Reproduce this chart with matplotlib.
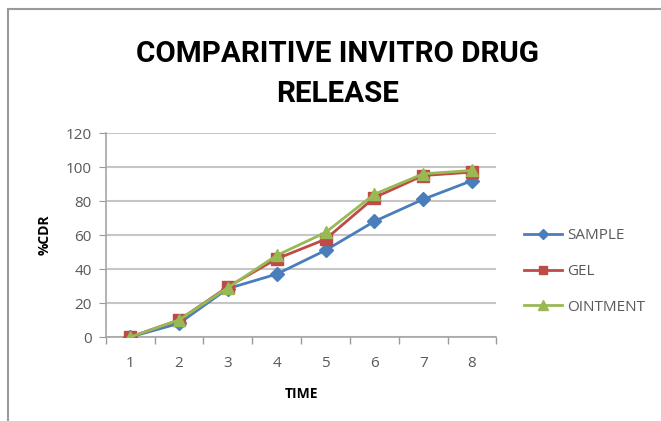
import matplotlib.pyplot as plt
from matplotlib.lines import Line2D

# === Data ===
time_points = [1, 2, 3, 4, 5, 6, 7, 8]
sample_cdr = [0, 8, 28.5, 37, 51, 68, 81, 92]
gel_cdr = [0, 10, 29.5, 46, 57.5, 82, 95, 97]
ointment_cdr = [0, 10, 29, 48, 61.5, 84, 96, 98]
y_ticks = [0, 20, 40, 60, 80, 100, 120]

# === Style ===
plt.rcParams['font.family'] = ['Open Sans', 'DejaVu Sans']
blue = '#4a7ebb'
red = '#be4b48'
green = '#98b954'
grid_gray = '#c6c6c6'
tick_gray = '#595959'
title_font = ['Roboto', 'Open Sans', 'DejaVu Sans']

fig = plt.figure(figsize=(6.61, 4.21), dpi=100)
ax = fig.add_axes([0.160, 0.1995, 0.591, 0.4845])

ax.plot(time_points, sample_cdr, color=blue, lw=2, marker='D', ms=7,
        label='SAMPLE', zorder=3)
ax.plot(time_points, gel_cdr, color=red, lw=2, marker='s', ms=8,
        label='GEL', zorder=4)
ax.plot(time_points, ointment_cdr, color=green, lw=2, marker='^', ms=8.5,
        label='OINTMENT', zorder=5)

ax.set_xlim(0.5, 8.5)
ax.set_ylim(0, 120)
ax.set_yticks(y_ticks)
ax.set_xticks(time_points)
ax.set_xticks([t + 0.5 for t in time_points[:-1]] + [0.5, 8.5], minor=True)
ax.tick_params(axis='x', which='major', length=0, pad=14, labelsize=11,
               labelcolor=tick_gray)
ax.tick_params(axis='x', which='minor', length=5, color='#9a9a9a', width=1)
ax.tick_params(axis='y', length=5, color='#9a9a9a', labelsize=11,
               labelcolor=tick_gray, pad=5)

ax.grid(axis='y', color=grid_gray, lw=1.5)
ax.set_axisbelow(True)
for side in ['top', 'right']:
    ax.spines[side].set_visible(False)
for side in ['left', 'bottom']:
    ax.spines[side].set_color('#a6a6a6')
    ax.spines[side].set_linewidth(1.2)

ax.set_xlabel('TIME', fontsize=10, fontweight='bold', labelpad=11)
ax.set_ylabel('%CDR', fontsize=10, fontweight='bold', labelpad=10)

# two-line chart title
fig.text(0.511, 0.8527, 'COMPARITIVE INVITRO DRUG', ha='center',
         va='baseline', fontsize=21.3, fontweight='bold', family=title_font)
fig.text(0.511, 0.7577, 'RELEASE', ha='center', va='baseline',
         fontsize=21.3, fontweight='bold', family=title_font)

handles = [
    Line2D([], [], color=blue, lw=2, marker='D', ms=5),
    Line2D([], [], color=red, lw=2, marker='s', ms=6),
    Line2D([], [], color=green, lw=2, marker='^', ms=7),
]
fig.legend(handles, ['SAMPLE', 'GEL', 'OINTMENT'], loc='center left',
           bbox_to_anchor=(0.772, 0.355), frameon=False, fontsize=11,
           handlelength=2.5, handletextpad=0.3, labelspacing=1.35,
           labelcolor=tick_gray)

# outer chart frame (left and top edges)
fig.add_artist(Line2D([0.012, 0.012], [0.0, 0.979], color='#9a9a9a', lw=1.5))
fig.add_artist(Line2D([0.012, 1.0], [0.979, 0.979], color='#9a9a9a', lw=1.5))

fig.savefig('out.png', dpi=100)
